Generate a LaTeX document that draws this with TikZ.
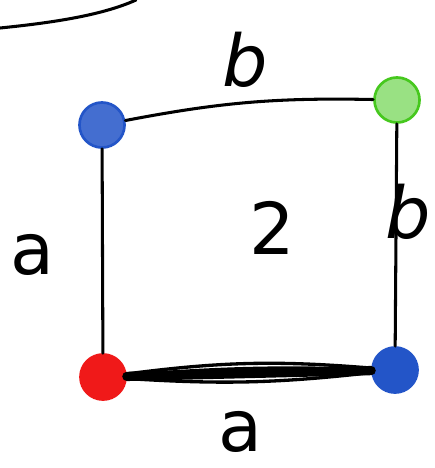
\documentclass[tikz,border=0pt]{standalone}
\usepackage{fontspec}
\setmainfont{DejaVu Sans}
\definecolor{vblue}{RGB}{35,85,200}
\definecolor{vgreen}{RGB}{70,200,30}
\definecolor{vred}{RGB}{240,25,25}
\begin{document}
\begin{tikzpicture}[x=0.0265cm,y=-0.0265cm,
  font=\fontsize{54}{58}\selectfont,
  vert/.style={circle, minimum size=34, inner sep=0pt, line width=2pt},
  edge/.style={line width=2.3pt, line cap=round},
  lab/.style={inner sep=0pt}
]
\useasboundingbox (0,0) rectangle (434,468);
\node[vert, draw=vblue, fill=vblue!85]   (tl) at (102,125) {};
\node[vert, draw=vgreen, fill=vgreen!55] (tr) at (397,100) {};
\node[vert, draw=vred, fill=vred]        (bl) at (103,377) {};
\node[vert, draw=vblue, fill=vblue]      (br) at (395,370) {};
\node[lab] (top)   at (245,60)  {\itshape b};
\node[lab] (right) at (408,212) {\itshape b};
\node[lab] (left)  at (32,255)  {a};
\node[lab] (bot)   at (240,432) {a};
\node[lab] (area)  at (272,228) {2};
\coordinate (c1) at (0,28);
\coordinate (c2) at (136,0);
\draw[edge] (c1) .. controls (60,22) and (105,14) .. (c2);
\draw[edge] (tl) to[bend left=6] (tr);
\draw[edge] (tl) -- (bl);
\draw[edge] (tr) -- (br);
% scribbled bottom side
\draw[edge, line width=7pt] (bl) -- (br);
\draw[edge, line width=2.5pt] (bl) to[bend left=6] (br);
\draw[edge, line width=2.5pt] (bl) to[bend left=3] (br);
\draw[edge, line width=2.5pt] (bl) to[bend right=5] (br);
\end{tikzpicture}
\end{document}
